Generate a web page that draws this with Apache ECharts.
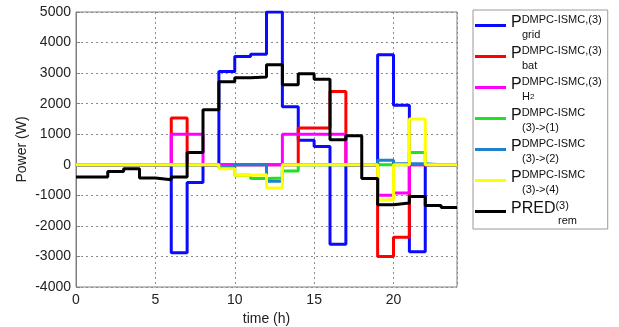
<!DOCTYPE html>
<html>
<head>
<meta charset="utf-8">
<script src="https://cdn.jsdelivr.net/npm/echarts@6/dist/echarts.min.js"></script>
<style>
  html, body { margin: 0; padding: 0; background: #fff; }
  #chart { width: 619px; height: 327px; }
</style>
</head>
<body>
<div id="chart"></div>
<script>
// Hourly power set-points (W); each value holds from hour h to h+1.
const hours = [0, 1, 2, 3, 4, 5, 6, 7, 8, 9, 10, 11, 12, 13, 14, 15, 16, 17, 18, 19, 20, 21, 22, 23];

const pGrid   = [0, 0, 0, 0, 0, 0, -2880, -580, 0, 3050, 3540, 3620, 5000, 1900, 800, 600, -2600, 0, 0, 3600, 1950, -2850, 0, 0];
const pBat    = [0, 0, 0, 0, 0, 0, 1530, 0, 0, 0, 0, 0, 0, 0, 1200, 1200, 2400, 0, 0, -3000, -2370, 0, 0, 0];
const pH2     = [0, 0, 0, 0, 0, 0, 1000, 1000, 0, 0, 0, 0, 0, 1000, 1000, 1000, 1000, 0, 0, -1000, -920, 0, 0, 0];
const p3to1   = [0, 0, 0, 0, 0, 0, 0, 0, 0, -80, -340, -450, -430, -200, 0, 0, 0, 0, 0, 0, 0, 400, 0, 0];
const p3to2   = [0, 0, 0, 0, 0, 0, 0, 0, 0, -100, 0, 0, -540, 0, 0, 0, 0, 0, 0, 150, 30, 30, 0, 0];
const p3to4   = [0, 0, 0, 0, 0, 0, 0, 0, 0, -130, -340, -330, -760, 0, 0, 0, 0, 0, 0, -1150, 0, 1500, 0, 0];
const predRem = [-400, -400, -220, -130, -430, -490, -400, 400, 1800, 2720, 2850, 2870, 3270, 2620, 2980, 2800, 820, 950, -450, -1310, -1250, -1040, -1330, -1400];

const xTicks = [0, 5, 10, 15, 20];
const xMax = 24;
const yMin = -4000, yMax = 5000, yStep = 1000;

// Step points: value at the start of each hour, closed at the end of the day.
function steps(vals) {
  const pts = hours.map((h, i) => [h, vals[i]]);
  pts.push([xMax, vals[vals.length - 1]]);
  return pts;
}

const seriesDefs = [
  { name: 'grid', color: '#0a0aff', data: pGrid,
    label: '{p|P}{sup|DMPC-ISMC,(3)}\n{sp| }{sub|grid}' },
  { name: 'bat', color: '#ff0000', data: pBat,
    label: '{p|P}{sup|DMPC-ISMC,(3)}\n{sp| }{sub|bat}' },
  { name: 'H2', color: '#ff00ff', data: pH2,
    label: '{p|P}{sup|DMPC-ISMC,(3)}\n{sp| }{sub|H}{sub2|2}' },
  { name: '3to1', color: '#22e022', data: p3to1,
    label: '{p|P}{sup|DMPC-ISMC}\n{sp| }{sub|(3)->(1)}' },
  { name: '3to2', color: '#1f80cc', data: p3to2,
    label: '{p|P}{sup|DMPC-ISMC}\n{sp| }{sub|(3)->(2)}' },
  { name: '3to4', color: '#ffff00', data: p3to4,
    label: '{p|P}{sup|DMPC-ISMC}\n{sp| }{sub|(3)->(4)}' },
  { name: 'PRED', color: '#000000', data: predRem,
    label: '{p|PRED}{sup|(3)}\n{sp2| }{sub|rem}' }
];
const legendText = {};
seriesDefs.forEach(d => { legendText[d.name] = d.label; });

const FONT = 'Liberation Sans, Arial, sans-serif';
const chart = echarts.init(document.getElementById('chart'), null, { renderer: 'canvas' });

chart.setOption({
  animation: false,
  backgroundColor: '#ffffff',
  grid: {
    left: 76, top: 12, right: 162, bottom: 40,
    outerBoundsMode: 'none', containLabel: false,
    show: true, borderColor: '#808080', borderWidth: 1, backgroundColor: '#ffffff'
  },
  xAxis: {
    type: 'value', min: 0, max: xMax, interval: 5,
    name: 'time (h)', nameLocation: 'middle', nameGap: 20,
    nameTextStyle: { fontFamily: FONT, fontSize: 14, color: '#222' },
    axisLine: { show: true, lineStyle: { color: '#808080' } },
    axisTick: { show: true, inside: true, length: 4, lineStyle: { color: '#808080' } },
    axisLabel: {
      fontFamily: FONT, fontSize: 14, color: '#222', margin: 6,
      formatter: v => (xTicks.indexOf(v) >= 0 ? String(v) : '')
    },
    splitLine: { show: true, lineStyle: { color: '#8a8a8a', type: [2, 3], width: 1 } }
  },
  yAxis: {
    type: 'value', min: yMin, max: yMax, interval: yStep,
    name: 'Power (W)', nameLocation: 'middle', nameGap: 47, nameRotate: 90,
    nameMoveOverlap: false,
    nameTextStyle: { fontFamily: FONT, fontSize: 14, color: '#222' },
    axisLine: { show: true, lineStyle: { color: '#808080' } },
    axisTick: { show: true, inside: true, length: 4, lineStyle: { color: '#808080' } },
    axisLabel: { fontFamily: FONT, fontSize: 14, color: '#222', margin: 5, formatter: v => String(v) },
    splitLine: { show: true, lineStyle: { color: '#8a8a8a', type: [2, 3], width: 1 } }
  },
  legend: {
    orient: 'vertical',
    left: 473, top: 10,
    itemGap: 5,
    itemWidth: 31, itemHeight: 3,
    icon: 'rect',
    padding: [4, 6, 3, 2],
    borderColor: '#9a9a9a', borderWidth: 1, backgroundColor: '#ffffff',
    data: seriesDefs.map(d => d.name),
    formatter: name => legendText[name],
    textStyle: {
      fontFamily: FONT, color: '#111',
      rich: {
        p:    { fontFamily: FONT, fontSize: 16, lineHeight: 18, color: '#111' },
        sup:  { fontFamily: FONT, fontSize: 11, lineHeight: 14, verticalAlign: 'top', color: '#111' },
        sp:   { fontFamily: FONT, fontSize: 11, lineHeight: 5, width: 11 },
        sp2:  { fontFamily: FONT, fontSize: 11, lineHeight: 5, width: 47 },
        sub:  { fontFamily: FONT, fontSize: 11, lineHeight: 5, color: '#111' },
        sub2: { fontFamily: FONT, fontSize: 8, lineHeight: 5, color: '#111' }
      }
    }
  },
  series: seriesDefs.map(d => ({
    name: d.name,
    type: 'line',
    step: 'end',
    data: steps(d.data),
    symbol: 'none',
    lineStyle: { width: 3, color: d.color },
    itemStyle: { color: d.color }
  }))
});
</script>
</body>
</html>
